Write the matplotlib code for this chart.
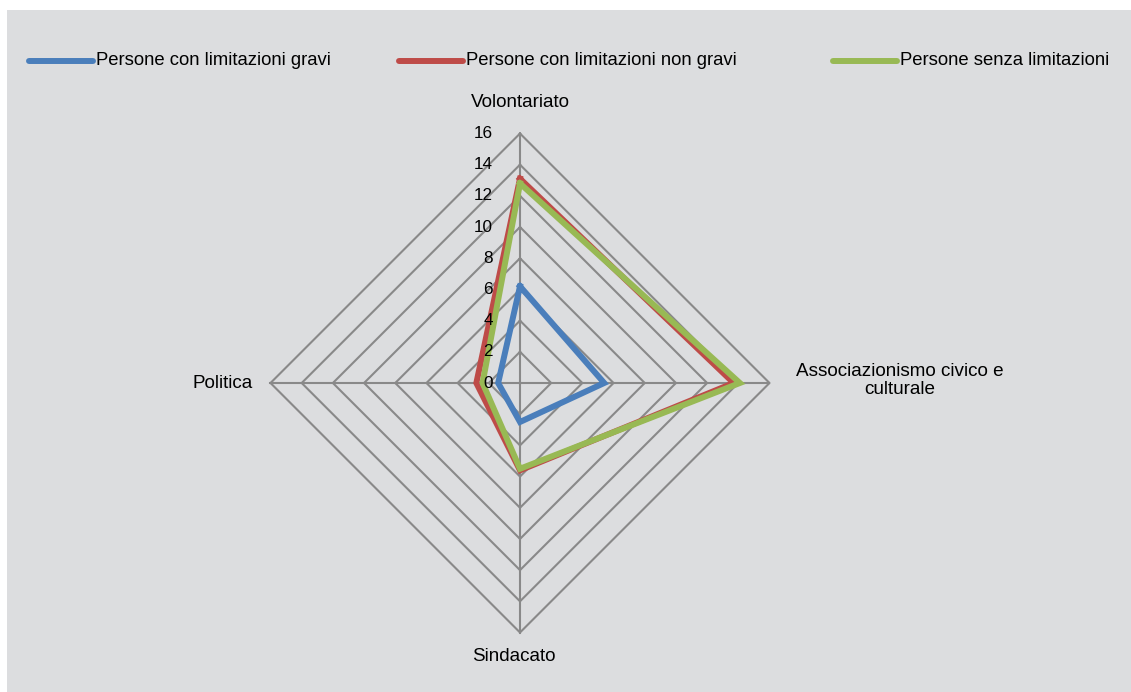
import numpy as np
import matplotlib
matplotlib.use("Agg")
import matplotlib.pyplot as plt
from matplotlib.patches import Rectangle
from matplotlib.lines import Line2D

# --- data -------------------------------------------------------------
categories = ["Volontariato", "Associazionismo civico e\nculturale", "Sindacato", "Politica"]
series_names = [
    "Persone con limitazioni gravi",
    "Persone con limitazioni non gravi",
    "Persone senza limitazioni",
]
gravi = [6.2, 5.4, 2.5, 1.4]
non_gravi = [13.1, 13.7, 5.6, 2.8]
senza = [12.8, 14.1, 5.5, 2.4]
ticks = [0, 2, 4, 6, 8, 10, 12, 14, 16]

colors = ["#4a7ebb", "#be4b48", "#98b954"]
BG = "#dcdddf"
GRID = "#898989"

plt.rcParams["font.family"] = ["Liberation Sans", "DejaVu Sans"]

W, H = 1131, 692
fig = plt.figure(figsize=(W / 100, H / 100), dpi=100)
fig.patch.set_facecolor("white")
fig.patches.append(Rectangle((7 / W, 0), 1 - 7 / W, 1 - 10 / H,
                             transform=fig.transFigure, facecolor=BG,
                             edgecolor="none", zorder=-1))

# axes in value units, centre of radar at pixel (520, 383)
px = 249.5 / 16.0
cx, cy = 520, 383
ax = fig.add_axes([0, 0, 1, 1])
ax.set_xlim(-cx / px, (W - cx) / px)
ax.set_ylim(-(H - cy) / px, cy / px)
ax.set_axis_off()
ax.patch.set_alpha(0)

# clockwise from the top
angles = np.pi / 2 - np.arange(len(categories)) * 2 * np.pi / len(categories)
ca, sa = np.cos(angles), np.sin(angles)

def closed(v):
    v = np.asarray(v, dtype=float)
    x, y = v * ca, v * sa
    return np.append(x, x[0]), np.append(y, y[0])

# grid rings and spokes
rmax = ticks[-1]
for t in ticks[1:]:
    x, y = closed([t] * len(categories))
    ax.plot(x, y, color=GRID, lw=1.5, zorder=1)
for a, b in zip(ca, sa):
    ax.plot([0, rmax * a], [0, rmax * b], color=GRID, lw=1.5, zorder=1)

# value labels along top spoke
for t in ticks:
    ax.text(-1.75, t, str(t), ha="right", va="center", fontsize=12.3,
            color="black", zorder=5)

# category labels
lab_off = [(0, 2.0, "center", "center"),
           (1.7, 0.15, "left", "center"),
           (-0.4, -1.55, "center", "center"),
           (-1.15, 0.0, "right", "center")]
for name, a, b, (dx, dy, ha, va) in zip(categories, ca, sa, lab_off):
    ax.text(rmax * a + dx, rmax * b + dy, name, ha=ha, va=va,
            fontsize=13.6, multialignment="center", linespacing=1.12, zorder=5)

# series
for vals, col in zip([gravi, non_gravi, senza], colors):
    x, y = closed(vals)
    ax.plot(x, y, color=col, lw=4.3, solid_joinstyle="miter", zorder=3)

# legend drawn by hand to match spacing
leg_x = [28, 398, 832]
leg_line_y = 60.5
leg_text_y = 65
for name, col, lx in zip(series_names, colors, leg_x):
    fig.add_artist(Line2D([(lx + 1) / W, (lx + 65) / W], [1 - leg_line_y / H] * 2,
                          color=col, lw=4.3, solid_capstyle="round",
                          transform=fig.transFigure))
    fig.text((lx + 68) / W, 1 - leg_text_y / H, name, ha="left", va="baseline",
             fontsize=13.3)

fig.savefig("out.png", dpi=100, facecolor=fig.get_facecolor())
